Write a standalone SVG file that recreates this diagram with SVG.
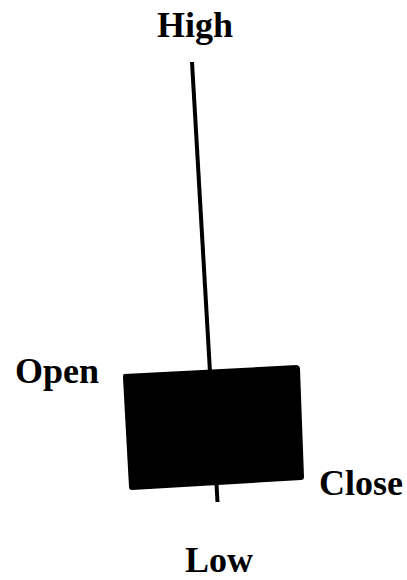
<svg xmlns="http://www.w3.org/2000/svg" width="407" height="580" viewBox="0 0 407 580">
<style>
.lbl{font-family:"Liberation Serif","Times New Roman",serif;font-weight:bold;font-size:36px;fill:#000}
.wick{stroke:#000;stroke-width:4;fill:none}
</style>
<rect width="407" height="580" fill="#fff"/>
<g id="connectors">
<line class="wick" x1="192" y1="62" x2="210" y2="372"/>
<line class="wick" x1="216.5" y1="484" x2="217.5" y2="502"/>
</g>
<g id="body">
<path d="M124,374 L297,365 Q300,366 300,369 L304,477 Q304,480 301,480 L132,490 Q129,490 129,487 L123,378 Q123,374 124,374 Z" fill="#000"/>
</g>
<g id="high"><text class="lbl" x="195" y="37" text-anchor="middle">High</text></g>
<g id="open"><text class="lbl" x="15" y="383">Open</text></g>
<g id="close"><text class="lbl" x="319" y="495">Close</text></g>
<g id="low"><text class="lbl" x="219" y="572" text-anchor="middle">Low</text></g>
</svg>
